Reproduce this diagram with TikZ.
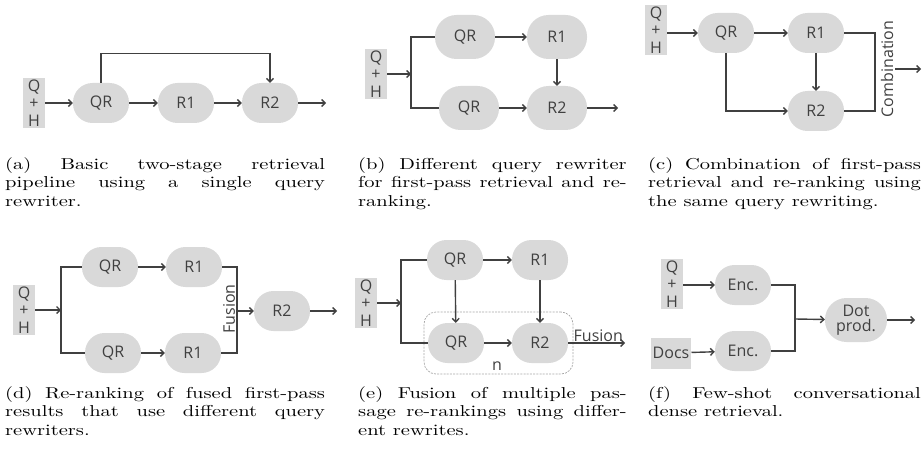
\documentclass[tikz,border=0pt]{standalone}
\usepackage{fontspec}
\usepackage{graphicx}
\usepackage{tikz}
\usetikzlibrary{arrows.meta}
\newfontfamily\desfont{Open Sans}
\definecolor{gri}{HTML}{D9D9D9}
\definecolor{linie}{HTML}{404040}
\definecolor{chenar}{HTML}{A6A6A6}
\newcommand{\subcap}[2]{\scalebox{2.05}[1.58]{\parbox[t]{#1pt}{\fontsize{10}{12}\selectfont\tolerance=10000\hyphenpenalty=10000\exhyphenpenalty=10000 #2}}}

\begin{document}
\begin{tikzpicture}[x=1pt, y=-1pt, font=\desfont\fontsize{16}{17.5}\selectfont, text=linie]
        \tikzstyle{blk}  = [fill=gri, minimum width=56pt, minimum height=40pt, rounded corners=19.5pt, inner sep=0pt]
        \tikzstyle{mare} = [minimum width=60pt, minimum height=44pt, rounded corners=21.5pt]
        \tikzstyle{inp}  = [fill=gri, inner sep=2pt, minimum width=22pt, align=center]
        \tikzstyle{lin}  = [draw=linie, line width=1.4pt]
        \tikzstyle{tran} = [lin, -{Straight Barb[length=3.5pt, width=7pt]}]
        \tikzstyle{grup} = [draw=chenar, dash pattern=on 2pt off 1.2pt, line width=0.7pt, rounded corners=12pt, minimum width=149pt, minimum height=62pt]
        \tikzstyle{capt} = [anchor=base west, inner sep=0pt, font=\rmfamily, text=black]

        \useasboundingbox (0,0) rectangle (923,468);

        % (a) pipeline simplu
        \node[inp] (aqh) at (34,103) {Q\\+\\H};
        \node[blk] (aqr) at (101,103) {QR};
        \node[blk] (ar1) at (186,103) {R1};
        \node[blk] (ar2) at (270,103) {R2};
        \coordinate (aout) at (326,103);
        \draw[tran] (aqh) -- (aqr);
        \draw[tran] (aqr) -- (ar1);
        \draw[tran] (ar1) -- (ar2);
        \draw[tran] (ar2) -- (aout);
        \draw[tran] (aqr.north) -- ++(0,-29) -| (ar2.north);

        % (b) doi rewriteri
        \node[inp] (bqh) at (376,74) {Q\\+\\H};
        \coordinate (bbar) at (411,74);
        \node[blk, mare] (bqr1) at (465,37) {QR};
        \node[blk, mare] (br1) at (557,37) {R1};
        \node[blk, mare] (bqr2) at (469,108) {QR};
        \node[blk, mare] (br2) at (557,108) {R2};
        \coordinate (bout) at (618,108);
        \draw[tran] (bqh) -- (bbar);
        \draw[lin] (bqr1.west) -| (bbar) |- (bqr2.west);
        \draw[tran] (bqr1) -- (br1);
        \draw[tran] (bqr2) -- (br2);
        \draw[tran] (br1) -- (br2);
        \draw[tran] (br2) -- (bout);

        % (c) combinatie
        \node[inp] (cqh) at (656,30) {Q\\+\\H};
        \node[blk] (cqr) at (726,33) {QR};
        \node[blk] (cr1) at (816,33) {R1};
        \node[blk] (cr2) at (816,111) {R2};
        \node[rotate=90, inner sep=2pt] (ccomb) at (887,69) {Combination};
        \coordinate (cbar) at (875,69);
        \coordinate (cout) at (921,69);
        \draw[tran] (cqh.east |- cqr.west) -- (cqr.west);
        \draw[tran] (cqr) -- (cr1);
        \draw[tran] (cr1) -- (cr2);
        \draw[tran] (cqr.south) |- (cr2.west);
        \draw[lin] (cr1.east) -| (cbar) |- (cr2.east);
        \draw[tran] (ccomb.south) -- (cout);

        % (d) fuziune inainte de R2
        \node[inp] (dqh) at (24,310) {Q\\+\\H};
        \coordinate (dbar) at (61,310);
        \node[blk] (dqr1) at (110,267) {QR};
        \node[blk] (dr11) at (194,267) {R1};
        \node[blk] (dqr2) at (113,353) {QR};
        \node[blk] (dr12) at (193,353) {R1};
        \node[rotate=90, inner sep=2pt] (dfus) at (229,309) {Fusion};
        \coordinate (dfbar) at (237,311);
        \node[blk] (dr2) at (282,311) {R2};
        \coordinate (dout) at (337,311);
        \draw[tran] (dqh) -- (dbar);
        \draw[lin] (dqr1.west) -| (dbar) |- (dqr2.west);
        \draw[tran] (dqr1) -- (dr11);
        \draw[tran] (dqr2) -- (dr12);
        \draw[lin] (dr11.east) -| (dfbar) |- (dr12.east);
        \draw[tran] (dfbar) -- (dr2);
        \draw[tran] (dr2) -- (dout);

        % (e) fuziune dupa re-ranking
        \node[inp] (eqh) at (366,303) {Q\\+\\H};
        \coordinate (ebar) at (401,303);
        \node[blk] (eqr1) at (455,260) {QR};
        \node[blk] (er1) at (540,260) {R1};
        \node[grup] (egrup) at (498.5,343) {};
        \node[blk] (eqr2) at (456,343) {QR};
        \node[blk] (er2) at (540,343) {R2};
        \node (en) at (497,366) {n};
        \coordinate (eout) at (625,343);
        \draw[tran] (eqh) -- (ebar);
        \draw[lin] (eqr1.west) -| (ebar) |- (eqr2.west);
        \draw[tran] (eqr1) -- (er1);
        \draw[tran] (eqr1) -- (eqr2);
        \draw[tran] (er1) -- (er2);
        \draw[tran] (eqr2) -- (er2);
        \draw[tran] (er2) -- node[above, inner sep=1pt, pos=0.53]{Fusion} (eout);

        % (f) dense retrieval
        \node[inp] (fqh) at (672,284) {Q\\+\\H};
        \node[blk] (fenc1) at (743,285) {Enc.};
        \node[inp, minimum height=31pt] (fdocs) at (671,353) {Docs};
        \node[blk] (fenc2) at (743,351) {Enc.};
        \coordinate (fbar) at (795,319);
        \node[blk, mare, minimum width=62pt, align=center, font=\desfont\fontsize{16}{15}\selectfont] (fdot) at (856,320) {Dot\\prod.};
        \coordinate (fout) at (915,320);
        \draw[tran] (fqh.east |- fenc1.west) -- (fenc1.west);
        \draw[tran] (fdocs) -- (fenc2);
        \draw[lin] (fenc1.east) -| (fbar) |- (fenc2.east);
        \draw[tran] (fbar) -- (fdot);
        \draw[tran] (fdot) -- (fout);

        % Legendele.
        \foreach \x/\y/\w/\n/\t in {
                  5/169/156/a/{(a) Basic two-stage retrieval\linebreak pipeline using a single query\linebreak rewriter.},
                358/169/131/b/{(b) Different query rewriter\linebreak for first-pass retrieval and re-\linebreak ranking.},
                648/169/133/c/{(c) Combination of first-pass\linebreak retrieval and re-ranking using\linebreak the same query rewriting.},
                  5/398/156/d/{(d) Re-ranking of fused first-pass\linebreak results that use different query\linebreak rewriters.},
                358/398/131/e/{(e) Fusion of multiple pas-\linebreak sage re-rankings using differ-\linebreak ent rewrites.},
                648/398/133/f/{(f) Few-shot conversational\linebreak dense retrieval.}} {
            \node[capt] (cap\n) at (\x,\y) {\subcap{\w}{\t}};
        }
    \end{tikzpicture}
\end{document}
